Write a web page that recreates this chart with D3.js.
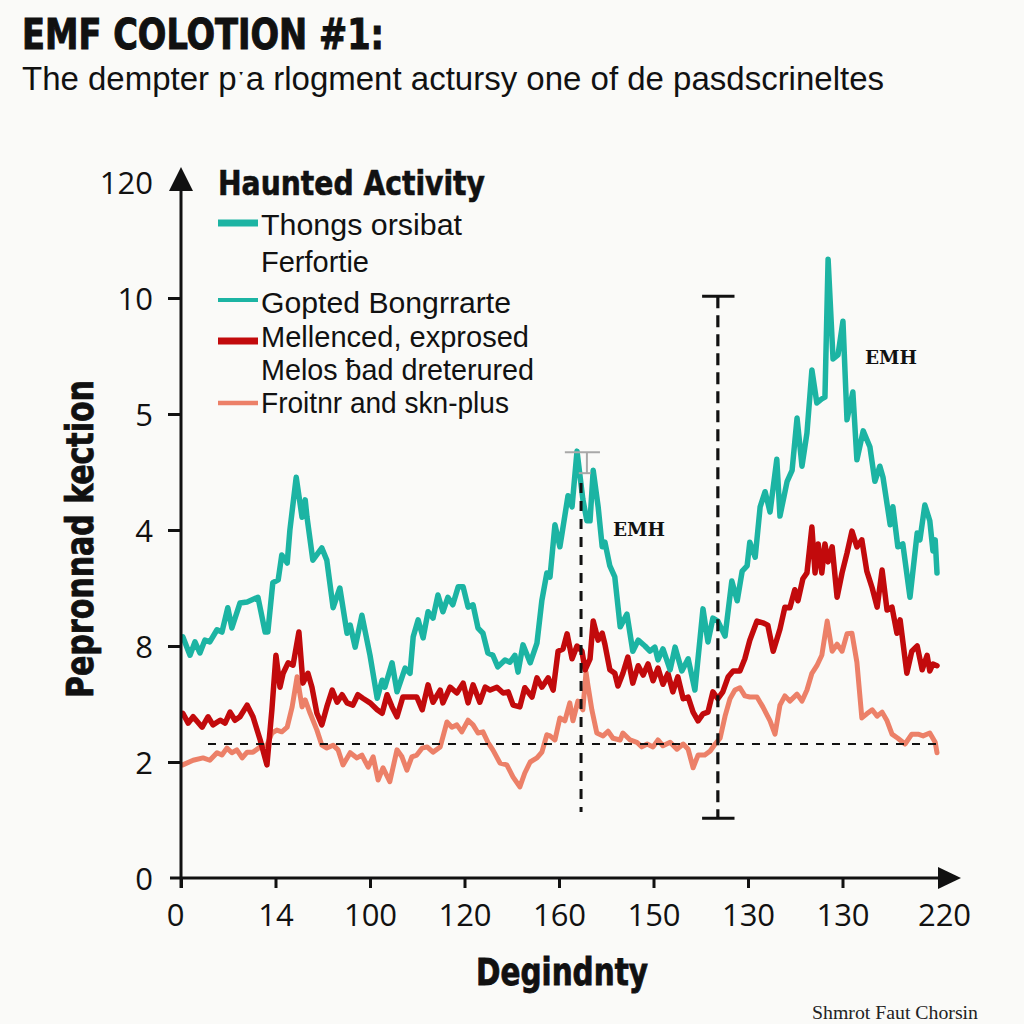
<!DOCTYPE html>
<html>
<head>
<meta charset="utf-8">
<script src="https://cdn.jsdelivr.net/npm/d3@7"></script>
<style>
  html, body { margin: 0; padding: 0; background: #fafaf8; }
  svg { display: block; }
</style>
</head>
<body>
<svg id="chart" width="1024" height="1024"></svg>
<script>
// ---------------- DATA ----------------
const titleText = "EMF COLOTION #1:";
const subtitleText = "The dempter p\u02d1a rlogment actursy one of de pasdscrineltes";
const xAxisTitle = "Degindnty";
const yAxisTitle = "Pepronnad kection";
const footerText = "Shmrot Faut Chorsin";

const xTickValues = [0, 21, 42, 63, 84, 105, 126, 147, 168];
const xTickLabels = ["0", "14", "100", "120", "160", "150", "130", "130", "220"];
const yTickValues = [0, 2, 4, 6, 8, 10, 12];
const yTickLabels = ["0", "2", "8", "4", "5", "10", "120"];

const legendTitle = "Haunted Activity";
const legendLabels = ["Thongs orsibat", "Ferfortie", "Gopted Bongrrarte", "Mellenced, exprosed", "Melos \u0180ad dreterured", "Froitnr and skn-plus"];
const legendKeys = ["teal", "", "teal2", "red", "", "salmon"];

// series: [step, value]
const tealSeries = [
[0.4,4.16],[2,3.84],[3.1,4.07],[4.2,3.88],[5.3,4.10],[6.4,4.07],[8,4.28],[9.1,4.24],[10.4,4.66],[11.3,4.31],[13.1,4.74],[14.7,4.76],[17.1,4.84],[18.7,4.24],[19.3,4.24],[20.4,5.09],[21.6,5.14],[22.4,5.57],[23.6,5.43],[24.2,6.00],[25.6,6.91],[26.9,6.22],[27.6,6.52],[28,6.22],[29.3,5.48],[31.3,5.69],[32.4,5.48],[33.8,4.66],[35.3,5.00],[36.9,4.22],[37.6,4.36],[38.7,3.98],[40.2,4.53],[42,3.84],[43.6,3.10],[44.7,3.41],[45.3,3.29],[46.9,3.71],[48,3.21],[49.8,3.62],[50.9,3.53],[51.6,4.16],[52.7,4.45],[53.8,4.14],[54.9,4.59],[56,4.48],[57.1,4.88],[58.2,4.59],[59.3,4.84],[60.4,4.71],[61.6,5.02],[62.7,5.02],[63.8,4.67],[64.9,4.71],[66,4.31],[67.1,4.22],[68.2,3.88],[69.3,3.84],[70.4,3.64],[72,3.76],[73.1,3.72],[74.2,3.84],[74.9,3.55],[76,4.02],[77.6,3.71],[79.1,4.05],[80.2,4.79],[81.3,5.26],[82,5.19],[83.1,6.09],[84.2,5.71],[86,6.59],[86.9,6.40],[88,7.36],[89.3,6.53],[90.2,6.16],[90.9,6.16],[91.6,7.03],[92.7,6.40],[93.6,5.71],[94.2,5.79],[95.3,5.38],[96.4,5.19],[97.6,4.33],[99.1,4.55],[100.4,3.91],[101.6,4.10],[103.1,4.00],[104.2,3.91],[105.3,3.98],[106,3.76],[107.1,3.95],[108.7,3.59],[109.8,3.98],[111.3,3.57],[112.7,3.78],[114.2,3.24],[116,4.64],[117.1,4.07],[118.2,4.48],[119.3,4.43],[120.9,4.17],[122.4,5.12],[123.6,4.78],[124.7,5.29],[125.8,5.38],[126.4,5.79],[127.6,5.53],[128.7,6.40],[129.8,6.66],[130.9,6.31],[132.4,7.22],[133.1,6.24],[134.7,6.84],[135.8,7.03],[136.9,7.93],[138,7.10],[139.1,7.67],[140.2,8.76],[141.3,8.19],[142.4,8.26],[143.1,8.29],[143.8,10.67],[144.9,8.95],[146,9.02],[147.1,9.60],[148,7.90],[149.3,8.38],[150.2,7.21],[151.6,7.71],[153.1,7.43],[154.2,6.84],[155.3,7.10],[156,6.91],[157.6,6.09],[158.2,6.40],[159.3,5.71],[160.4,5.76],[162,4.84],[163.6,5.95],[164.2,5.83],[165.3,6.43],[166.4,6.16],[167.1,5.64],[167.6,5.83],[168,5.26]
];
const redSeries = [
[0.4,2.84],[1.6,2.67],[2.7,2.78],[4.7,2.60],[6,2.78],[7.1,2.64],[8.7,2.72],[9.8,2.67],[10.9,2.86],[12,2.72],[13.1,2.78],[14.7,2.98],[16,2.78],[17.6,2.38],[19.1,1.95],[20.2,2.90],[21.1,3.84],[22,3.29],[22.7,3.53],[23.8,3.71],[24.9,3.67],[26.2,4.24],[27.1,3.36],[28.2,3.53],[29.1,3.29],[30.2,2.84],[31.3,2.64],[32.4,2.95],[33.6,3.24],[34.7,3.03],[35.8,3.16],[36.9,3.02],[38.2,2.98],[39.3,3.16],[40.4,3.10],[42,3.02],[43.6,2.90],[44.7,2.84],[45.8,3.16],[46.9,2.95],[48,2.78],[49.3,3.12],[50.9,3.12],[52.4,3.12],[53.6,2.90],[54.9,3.33],[56,3.03],[57.6,3.24],[58.2,3.02],[59.8,3.29],[61.3,3.19],[62.7,3.36],[63.8,3.02],[64.9,3.33],[66.4,3.03],[67.6,3.29],[68.7,3.24],[70.2,3.29],[71.6,3.19],[72.7,3.21],[73.8,2.98],[75.3,2.95],[76.4,3.28],[78,3.12],[79.1,3.45],[80.2,3.29],[81.6,3.45],[82.7,3.24],[83.8,3.91],[84.9,3.95],[85.8,4.21],[86.9,3.78],[88,4.00],[89.1,3.91],[89.8,3.59],[90.9,3.78],[91.6,4.43],[92.7,4.10],[93.6,4.22],[94.2,4.03],[95.3,3.59],[96.4,3.53],[97.1,3.31],[98.2,3.53],[99.3,3.81],[100.4,3.36],[101.6,3.66],[102.7,3.50],[103.8,3.69],[104.9,3.40],[106,3.62],[107.1,3.34],[108.2,3.53],[109.3,3.21],[110.4,3.47],[111.6,3.09],[112.7,3.12],[113.8,2.86],[114.9,2.71],[116,2.83],[117.1,2.86],[118.2,3.21],[119.3,3.09],[120.4,3.21],[121.6,3.47],[122.7,3.57],[124.2,3.57],[125.3,3.78],[126.4,4.10],[128,4.43],[129.3,4.40],[130.4,4.36],[131.6,3.91],[133.1,4.29],[134.2,4.67],[135.3,4.66],[136.4,4.97],[137.1,4.78],[138.2,5.16],[139.1,5.26],[140.2,6.05],[140.9,5.26],[141.6,5.76],[142.4,5.26],[143.1,5.76],[143.8,5.45],[144.7,5.71],[145.8,4.84],[146.9,5.26],[148,5.60],[149.1,5.98],[150.2,5.71],[151.3,5.83],[152.4,5.29],[153.6,5.00],[154.7,4.67],[155.8,5.31],[156.9,4.62],[158,4.67],[159.1,4.22],[159.8,4.45],[161.3,3.53],[162.4,3.91],[163.6,4.00],[164.7,3.59],[165.8,3.84],[166.4,3.57],[167.1,3.69],[168,3.66]
];
const salmonSeries = [
[0.4,1.95],[2.7,2.03],[4.9,2.07],[6.4,2.03],[8,2.16],[9.1,2.12],[10.2,2.24],[11.3,2.16],[12.4,2.21],[13.6,2.07],[14.7,2.17],[16,2.17],[17.6,2.26],[19.1,2.29],[20.2,2.50],[21.3,2.55],[22.4,2.52],[23.6,2.60],[24.7,2.95],[25.8,3.47],[26.9,2.95],[27.6,3.07],[28.7,2.84],[30.2,2.55],[31.3,2.29],[32.4,2.24],[33.8,2.29],[34.9,2.21],[36,1.95],[37.6,2.16],[39.1,2.07],[40.2,2.12],[41.6,1.91],[42.7,2.09],[43.8,1.69],[44.9,1.90],[46.4,1.66],[48,2.21],[49.1,2.09],[50.2,1.86],[51.3,2.09],[52.4,2.12],[53.6,2.24],[54.7,2.26],[56,2.17],[57.6,2.26],[59.1,2.69],[60.2,2.60],[61.3,2.64],[62.4,2.52],[63.8,2.72],[64.9,2.64],[66,2.50],[67.1,2.52],[68.2,2.34],[69.3,2.21],[70.9,1.98],[72.4,1.95],[73.8,1.74],[75.3,1.57],[76.4,1.81],[77.6,2.00],[79.1,2.07],[80.2,2.17],[81.3,2.47],[82,2.45],[83.1,2.38],[84.2,2.76],[85.3,2.71],[86.4,3.02],[87.1,2.71],[88.2,3.05],[89.3,2.90],[90,3.55],[90.4,3.34],[91.3,2.90],[92.4,2.50],[93.8,2.45],[94.9,2.53],[96,2.41],[97.6,2.38],[98.2,2.50],[99.8,2.38],[101.3,2.34],[102.4,2.26],[103.6,2.31],[104.9,2.26],[106,2.38],[107.1,2.28],[108.7,2.34],[110.2,2.22],[111.6,2.31],[112.7,2.22],[113.8,1.90],[114.9,2.12],[116.4,2.12],[117.6,2.19],[118.7,2.31],[119.8,2.41],[120.9,2.79],[122,3.09],[123.1,3.24],[124.2,3.28],[125.3,3.14],[126.4,3.12],[128,3.12],[129.3,2.95],[130.9,2.71],[132,2.48],[133.1,2.98],[134.2,3.14],[135.3,3.05],[136.9,3.17],[138,3.05],[139.1,3.24],[140.2,3.53],[141.3,3.66],[142.4,3.84],[143.6,4.43],[144.7,3.91],[145.8,4.03],[146.9,3.91],[148,4.21],[149.1,4.22],[150.2,3.72],[151.3,2.76],[152.4,2.83],[153.6,2.90],[154.7,2.79],[155.8,2.86],[156.9,2.71],[158,2.48],[159.3,2.41],[160.9,2.31],[162.4,2.48],[163.8,2.48],[164.9,2.45],[166.4,2.50],[167.6,2.34],[168,2.16]
];

// annotations (data units)
const refLineValue = 2.31;
const refLineFrom = 6, refLineTo = 168;
const markerA = { step: 88.9, low: 1.14, high: 6.81, capHigh: 7.34, capMid: 6.98 };
const errorBarB = { step: 119.3, low: 1.03, high: 10.03 };
const emhLabels = [ { step: 96, value: 5.9, text: "EMH" }, { step: 152, value: 8.86, text: "EMH" } ];

// ---------------- DRAW ----------------
const colors = { teal: "#1cb4a3", teal2: "#1cb4a3", red: "#c20a0c", salmon: "#ec8068" };
const ink = "#111111";

const svg = d3.select("#chart");
svg.append("rect").attr("width", 1024).attr("height", 1024).attr("fill", "#fafaf8");

const x = d3.scaleLinear().domain([0, 168]).range([181, 937]);
const y = d3.scaleLinear().domain([0, 12]).range([878, 182]);

// Title & subtitle
svg.append("text").attr("x", 22).attr("y", 49)
  .attr("font-family", "DejaVu Sans Condensed, DejaVu Sans").attr("font-weight", "bold")
  .attr("font-size", 43).attr("fill", ink)
  .attr("stroke", ink).attr("stroke-width", 1)
  .attr("textLength", 362).attr("lengthAdjust", "spacingAndGlyphs")
  .text(titleText);
svg.append("text").attr("x", 22).attr("y", 90)
  .attr("font-family", "Liberation Sans Narrow, Liberation Sans").attr("font-size", 33).attr("fill", ink)
  .attr("textLength", 862).attr("lengthAdjust", "spacingAndGlyphs")
  .text(subtitleText);

// Series lines
const line = d3.line().x(d => x(d[0])).y(d => y(d[1])).curve(d3.curveLinear);
const seriesDraw = [
  { data: salmonSeries, color: colors.salmon, w: 5 },
  { data: redSeries, color: colors.red, w: 5.5 },
  { data: tealSeries, color: colors.teal, w: 5.5 }
];
svg.append("g").selectAll("path").data(seriesDraw).join("path")
  .attr("d", d => line(d.data))
  .attr("fill", "none")
  .attr("stroke", d => d.color)
  .attr("stroke-width", d => d.w)
  .attr("stroke-linejoin", "round")
  .attr("stroke-linecap", "round");

// Annotations
const ann = svg.append("g");
ann.append("line")
  .attr("x1", x(refLineFrom)).attr("x2", x(refLineTo))
  .attr("y1", y(refLineValue)).attr("y2", y(refLineValue))
  .attr("stroke", ink).attr("stroke-width", 2).attr("stroke-dasharray", "8,8");

ann.append("line")
  .attr("x1", x(markerA.step)).attr("x2", x(markerA.step))
  .attr("y1", y(markerA.high)).attr("y2", y(markerA.low))
  .attr("stroke", ink).attr("stroke-width", 3).attr("stroke-dasharray", "10,8");
const grey = "#a8a8a8";
ann.append("line")
  .attr("x1", x(markerA.step - 3.6)).attr("x2", x(markerA.step + 4.2))
  .attr("y1", y(markerA.capHigh)).attr("y2", y(markerA.capHigh))
  .attr("stroke", grey).attr("stroke-width", 2);
ann.append("line")
  .attr("x1", x(markerA.step + 1.3)).attr("x2", x(markerA.step + 1.3))
  .attr("y1", y(markerA.capHigh)).attr("y2", y(markerA.capMid))
  .attr("stroke", grey).attr("stroke-width", 2);
ann.append("line")
  .attr("x1", x(markerA.step - 0.5)).attr("x2", x(markerA.step + 2.2))
  .attr("y1", y(markerA.capMid)).attr("y2", y(markerA.capMid))
  .attr("stroke", grey).attr("stroke-width", 2);

ann.append("line")
  .attr("x1", x(errorBarB.step)).attr("x2", x(errorBarB.step))
  .attr("y1", y(errorBarB.high)).attr("y2", y(errorBarB.low))
  .attr("stroke", ink).attr("stroke-width", 3.2).attr("stroke-dasharray", "12,7");
[errorBarB.high, errorBarB.low].forEach(v => {
  ann.append("line")
    .attr("x1", x(errorBarB.step - 3.5)).attr("x2", x(errorBarB.step + 3.7))
    .attr("y1", y(v)).attr("y2", y(v))
    .attr("stroke", ink).attr("stroke-width", 3);
});

ann.selectAll("text.emh").data(emhLabels).join("text")
  .attr("class", "emh")
  .attr("x", d => x(d.step)).attr("y", d => y(d.value))
  .attr("font-family", "DejaVu Serif").attr("font-weight", "bold").attr("font-size", 18)
  .attr("fill", ink).attr("textLength", 52).attr("lengthAdjust", "spacingAndGlyphs")
  .text(d => d.text);

// Y axis
const yAxisG = svg.append("g").attr("transform", "translate(181,0)")
  .call(d3.axisLeft(y).tickValues(yTickValues).tickSize(13).tickPadding(15)
    .tickFormat((d, i) => yTickLabels[i]));
yAxisG.select(".domain").remove();
yAxisG.selectAll(".tick line").attr("stroke", ink).attr("stroke-width", 3)
  .filter(d => d === 0 || d === 12).remove();
yAxisG.selectAll(".tick text")
  .attr("font-family", "Open Sans, Noto Sans").attr("font-size", 31).attr("fill", ink)
  .attr("dy", "0.36em");

// X axis
const xAxisG = svg.append("g").attr("transform", "translate(0,878)")
  .call(d3.axisBottom(x).tickValues(xTickValues).tickSize(10)
    .tickFormat((d, i) => xTickLabels[i]));
xAxisG.select(".domain").remove();
xAxisG.selectAll(".tick line").attr("stroke", ink).attr("stroke-width", 3)
  .filter(d => d === 168).remove();
xAxisG.selectAll(".tick text")
  .attr("font-family", "Open Sans, Noto Sans").attr("font-size", 31).attr("fill", ink)
  .attr("y", 48).attr("dy", 0)
  .attr("dx", d => d === 0 ? -6 : (d === 168 ? 7 : 0));

// axis lines with arrows
const axes = svg.append("g");
axes.append("line").attr("x1", 181).attr("x2", 181).attr("y1", y(0) + 10).attr("y2", y(12) - 4)
  .attr("stroke", ink).attr("stroke-width", 3);
axes.append("line").attr("x1", 170).attr("x2", x(168) + 6).attr("y1", y(0)).attr("y2", y(0))
  .attr("stroke", ink).attr("stroke-width", 3);
axes.append("path")
  .attr("d", `M181,${y(12) - 15} L169,${y(12) + 9} L193,${y(12) + 9} Z`).attr("fill", ink);
axes.append("path")
  .attr("d", `M961,${y(0)} L938,${y(0) - 11} L938,${y(0) + 11} Z`).attr("fill", ink);

// Axis titles
svg.append("text")
  .attr("transform", "translate(93,539) rotate(-90)")
  .attr("text-anchor", "middle")
  .attr("font-family", "DejaVu Sans Condensed, DejaVu Sans").attr("font-weight", "bold")
  .attr("font-size", 37).attr("fill", ink).attr("stroke", ink).attr("stroke-width", 0.8)
  .attr("textLength", 318).attr("lengthAdjust", "spacingAndGlyphs")
  .text(yAxisTitle);
svg.append("text")
  .attr("x", 562).attr("y", 985).attr("text-anchor", "middle")
  .attr("font-family", "DejaVu Sans Condensed, DejaVu Sans").attr("font-weight", "bold")
  .attr("font-size", 37).attr("fill", ink).attr("stroke", ink).attr("stroke-width", 0.8)
  .attr("textLength", 172).attr("lengthAdjust", "spacingAndGlyphs")
  .text(xAxisTitle);

// Footer
svg.append("text").attr("x", 812).attr("y", 1019)
  .attr("font-family", "Liberation Serif, DejaVu Serif").attr("font-size", 18).attr("fill", "#222")
  .attr("textLength", 166).attr("lengthAdjust", "spacingAndGlyphs")
  .text(footerText);

// Legend
const legend = svg.append("g");
legend.append("text").attr("x", 218).attr("y", 195)
  .attr("font-family", "DejaVu Sans Condensed, DejaVu Sans").attr("font-weight", "bold")
  .attr("font-size", 34).attr("fill", ink).attr("stroke", ink).attr("stroke-width", 0.6)
  .attr("textLength", 267).attr("lengthAdjust", "spacingAndGlyphs")
  .text(legendTitle);
const legendBaselines = [235, 272, 313, 347, 380, 413];
const legendSwatchY = [223, 0, 300, 341, 0, 403];
const legendSwatchW = { teal: 7, teal2: 4, red: 7, salmon: 4.5 };
const legendTextLen = [201, 108, 250, 268, 273, 248];
legendLabels.forEach((lab, i) => {
  const key = legendKeys[i];
  if (key) {
    legend.append("line").attr("x1", 218).attr("x2", 258)
      .attr("y1", legendSwatchY[i]).attr("y2", legendSwatchY[i])
      .attr("stroke", colors[key]).attr("stroke-width", legendSwatchW[key]);
  }
  legend.append("text").attr("x", 261).attr("y", legendBaselines[i])
    .attr("font-family", "Liberation Sans, Arial").attr("font-size", 29).attr("fill", ink)
    .attr("textLength", legendTextLen[i]).attr("lengthAdjust", "spacingAndGlyphs")
    .text(lab);
});
</script>
</body>
</html>
